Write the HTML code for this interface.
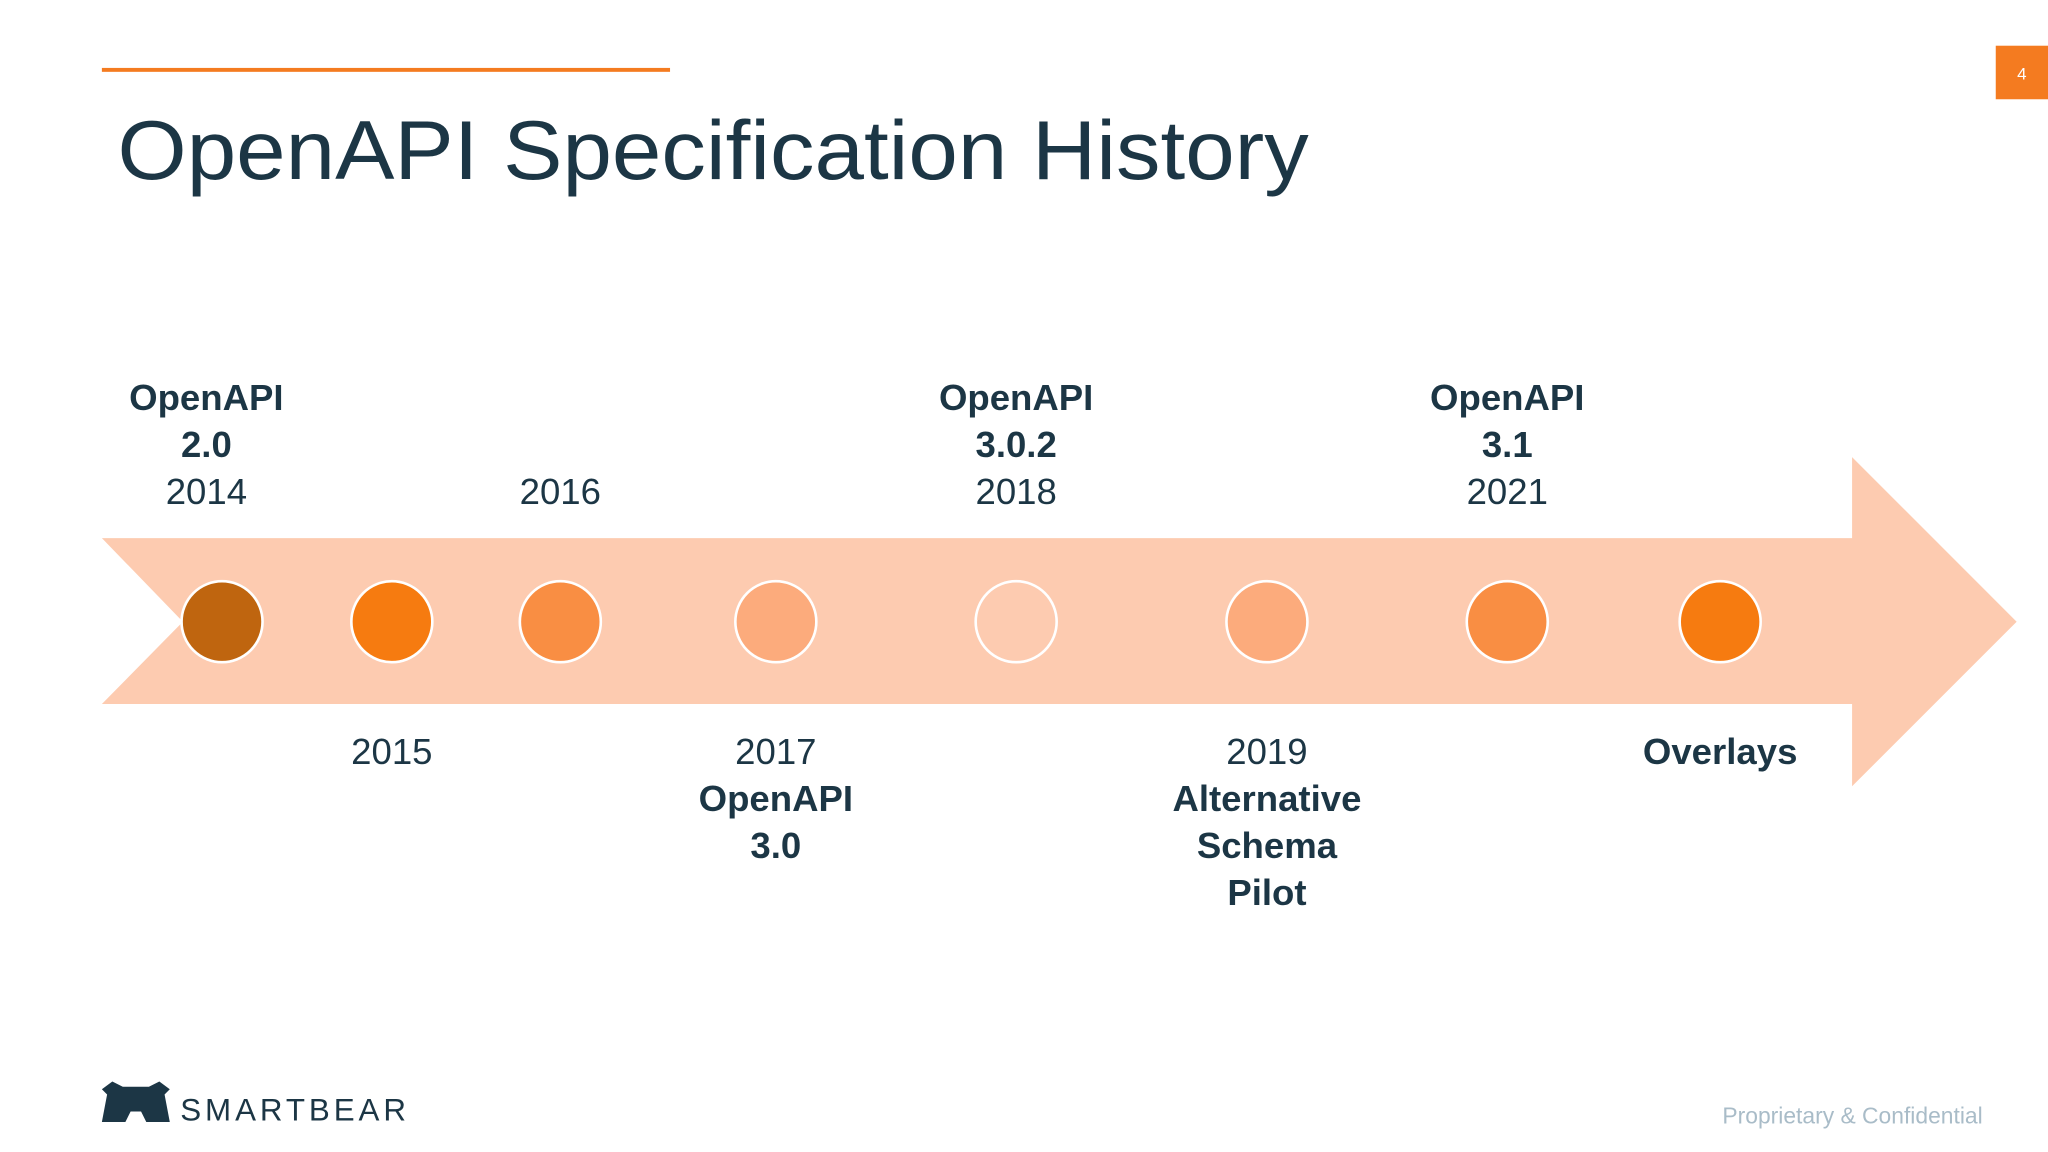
<!DOCTYPE html>
<html><head><meta charset="utf-8"><style>
html,body{margin:0;padding:0;background:#fff;}
svg{display:block;}
text{font-family:"Liberation Sans",sans-serif;}
</style></head><body>
<svg width="2048" height="1152" viewBox="0 0 1568 882" xmlns="http://www.w3.org/2000/svg">
<rect width="1568" height="882" fill="#fff"/>
<rect x="78" y="52" width="435" height="3" fill="#f47b20"/>
<text x="90" y="137" font-size="64" fill="#1c3645" textLength="912" lengthAdjust="spacingAndGlyphs">OpenAPI Specification History</text>
<rect x="1528" y="35" width="40" height="41" fill="#f47b20"/>
<text x="1548" y="61" font-size="13" fill="#fff" text-anchor="middle">4</text>

<polygon points="78,412 1418,412 1418,350 1544,476 1418,602 1418,539 78,539 140,476" fill="#fdcbb0"/>

<g stroke="#fff" stroke-width="2">
<circle cx="170" cy="476" r="31" fill="#bf650f"/>
<circle cx="300" cy="476" r="31" fill="#f67b10"/>
<circle cx="429" cy="476" r="31" fill="#f98e43"/>
<circle cx="594" cy="476" r="31" fill="#fcab7c"/>
<circle cx="778" cy="476" r="31" fill="#fdcbb0"/>
<circle cx="970" cy="476" r="31" fill="#fcab7c"/>
<circle cx="1154" cy="476" r="31" fill="#f98e43"/>
<circle cx="1317" cy="476" r="31" fill="#f67b10"/>
</g>

<g font-size="28" fill="#1c3645" text-anchor="middle">
<g>
<text x="158" y="314" font-weight="bold">OpenAPI</text><text x="158" y="350" font-weight="bold">2.0</text><text x="158" y="386">2014</text></g>
<text x="429" y="386">2016</text>
<g>
<text x="778" y="314" font-weight="bold">OpenAPI</text><text x="778" y="350" font-weight="bold">3.0.2</text><text x="778" y="386">2018</text></g>
<g>
<text x="1154" y="314" font-weight="bold">OpenAPI</text><text x="1154" y="350" font-weight="bold">3.1</text><text x="1154" y="386">2021</text></g>
<text x="300" y="585">2015</text>
<g>
<text x="594" y="585">2017</text><text x="594" y="621" font-weight="bold">OpenAPI</text><text x="594" y="657" font-weight="bold">3.0</text></g>
<g>
<text x="970" y="585">2019</text><text x="970" y="621" font-weight="bold">Alternative</text><text x="970" y="657" font-weight="bold">Schema</text><text x="970" y="693" font-weight="bold">Pilot</text></g>
<text x="1317" y="585" font-weight="bold">Overlays</text>
</g>

<g>
<path d="M78,859 L82,838 L78,834 L86,828 L94,832 L114,832 L122,828 L130,834 L126,838 L130,859 L112,859 L108,851 L100,851 L96,859 Z" fill="#1c3645"/>
<text x="138" y="858" font-size="24" fill="#1c3645" letter-spacing="3">SMARTBEAR</text>
</g>
<text x="1518" y="860" font-size="17.5" fill="#a9bcc8" text-anchor="end">Proprietary &amp; Confidential</text>
</svg>
</body></html>
